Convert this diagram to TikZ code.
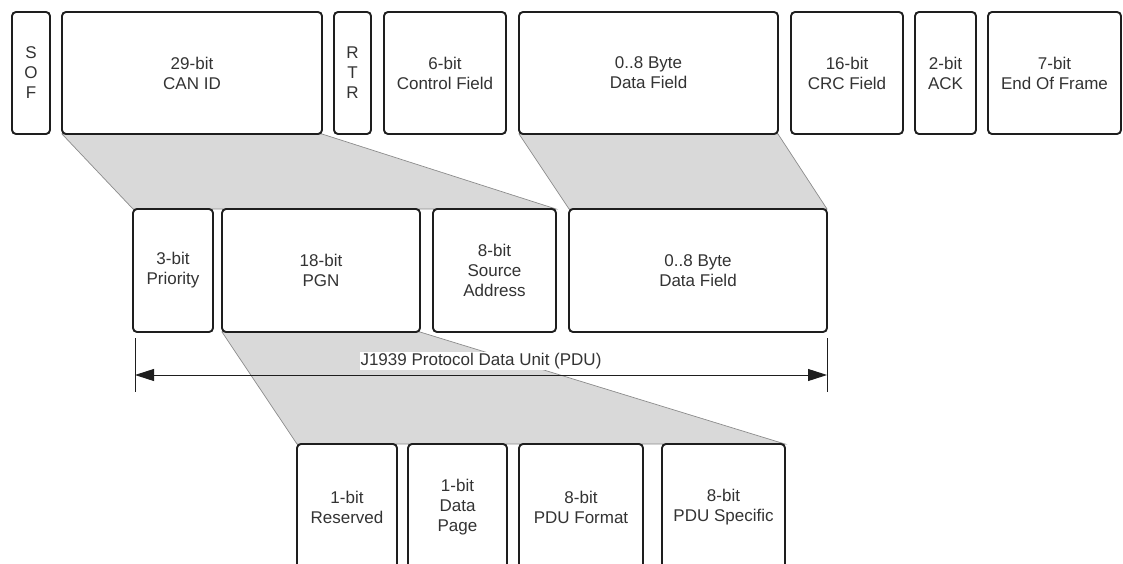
\documentclass[tikz,border=0pt]{standalone}
\usepackage{fontspec}
\setmainfont{Liberation Sans}
\usetikzlibrary{arrows.meta}
\definecolor{edge}{HTML}{1E1E1E}
\definecolor{ink}{HTML}{333333}
\definecolor{shade}{HTML}{D9D9D9}
\definecolor{shadeline}{HTML}{8C8C8C}
\tikzset{
  field/.style={draw=edge, line width=1.9pt, rounded corners=4pt, fill=white,
    inner sep=0pt, outer sep=0pt, align=center, text=ink,
    font=\fontsize{17}{20}\selectfont},
  expand/.style={fill=shade, draw=shadeline, line width=0.7pt},
  dimline/.style={draw=edge, line width=0.9pt},
}
% field box from its corners: name, x1, y1, x2, y2, label
\newcommand\fieldbox[6]{%
  \node[field, minimum width={#4-#2}, minimum height={#5-#3}]
    (#1) at ({(#2+#4)/2},{(#3+#5)/2}) {#6};}
\pgfdeclarelayer{bg}
\pgfsetlayers{bg,main}
\begin{document}
\begin{tikzpicture}[x=1pt,y=-1pt]
\useasboundingbox (0,0) rectangle (1123,564);
\clip (0,0) rectangle (1123,564);

% CAN frame
\fieldbox{sof}{12}{12}{50}{134}{S\\O\\F}
\fieldbox{canid}{62}{12}{322}{134}{29-bit\\CAN ID}
\fieldbox{rtr}{334}{12}{371}{134}{R\\T\\R}
\fieldbox{ctrl}{384}{12}{506}{134}{6-bit\\Control Field}
\fieldbox{data}{519}{12}{778}{134}{0..8 Byte\\Data Field}
\fieldbox{crc}{791}{12}{903}{134}{16-bit\\CRC Field}
\fieldbox{ack}{915}{12}{976}{134}{2-bit\\ACK}
\fieldbox{eof}{988}{12}{1121}{134}{7-bit\\End Of Frame}

% J1939 PDU
\fieldbox{prio}{133}{209}{213}{332}{3-bit\\Priority}
\fieldbox{pgn}{222}{209}{420}{332}{18-bit\\PGN}
\fieldbox{src}{433}{209}{556}{332}{8-bit\\Source\\Address}
\fieldbox{pdata}{569}{209}{827}{332}{0..8 Byte\\Data Field}

% PGN breakdown
\fieldbox{res}{297}{444}{397}{570}{1-bit\\Reserved}
\fieldbox{dp}{408}{444}{507}{570}{1-bit\\Data\\Page}
\fieldbox{pf}{519}{444}{643}{570}{8-bit\\PDU Format}
\fieldbox{ps}{662}{444}{785}{570}{8-bit\\PDU Specific}

% shaded expansions behind the boxes
\begin{pgfonlayer}{bg}
  \path[expand] (canid.south west) -- (prio.north west)
    -- (src.north east) -- (canid.south east) -- cycle;
  \path[expand] (data.south west) -- (pdata.north west)
    -- (pdata.north east) -- (data.south east) -- cycle;
  \path[expand] (pgn.south west) -- (res.north west)
    -- (ps.north east) -- (pgn.south east) -- cycle;
\end{pgfonlayer}

% PDU extent
\coordinate (tickL) at (135,338);
\coordinate (tickR) at (827,338);
\coordinate (pduL) at (135,375);
\coordinate (pduR) at (827,375);
\draw[dimline] (tickL) -- ++(0,54);
\draw[dimline] (tickR) -- ++(0,54);
\draw[dimline, {Triangle[length=19pt,width=12pt]}-{Triangle[length=19pt,width=12pt]}]
  (pduL) -- (pduR);
\node[fill=white, inner sep=1pt, text=ink, font=\fontsize{17}{20}\selectfont]
  (pdulabel) at (481,361) {J1939 Protocol Data Unit (PDU)};
\end{tikzpicture}
\end{document}
